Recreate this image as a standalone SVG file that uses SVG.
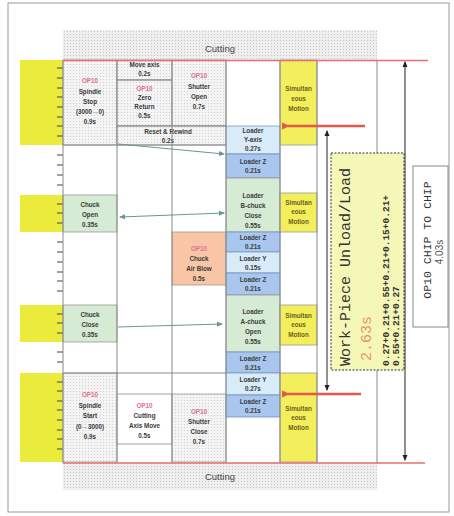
<svg xmlns="http://www.w3.org/2000/svg" width="454" height="516" viewBox="0 0 454 516">
<defs>
<pattern id="dots" width="3" height="3" patternUnits="userSpaceOnUse"><rect width="3" height="3" fill="#f4f4f4"/><rect x="1" y="1" width="1" height="1" fill="#d2d2d2"/></pattern>
<pattern id="dots2" width="3" height="3" patternUnits="userSpaceOnUse"><rect width="3" height="3" fill="#efefef"/><rect x="1" y="1" width="1" height="1" fill="#c4c4c4"/></pattern>
<marker id="ag" markerWidth="6" markerHeight="6" refX="5" refY="3" orient="auto-start-reverse" markerUnits="userSpaceOnUse"><path d="M0,0.5 L6,3 L0,5.5 z" fill="#6a9595"/></marker>
<marker id="ar" markerWidth="8" markerHeight="8" refX="2" refY="4" orient="auto" markerUnits="userSpaceOnUse"><path d="M8,0.5 L0,4 L8,7.5 z" fill="#e8574a"/></marker>
<marker id="ak" markerWidth="6" markerHeight="7" refX="5" refY="3" orient="auto-start-reverse" markerUnits="userSpaceOnUse"><path d="M0,0.5 L6,3 L0,5.5 z" fill="#222"/></marker>
</defs>
<style>
.grid{stroke:#8a8a8a;stroke-width:1;fill:none}
.t{font-family:"Liberation Sans",Arial,sans-serif;font-size:6.3px;font-weight:bold;fill:#3a3a3a;text-anchor:middle}
.op{fill:#e0708a}
.sm{fill:#6b6420}
.cut{font-family:"Liberation Sans",Arial,sans-serif;font-size:9.5px;fill:#444;text-anchor:middle}
.mono{font-family:"Liberation Mono","DejaVu Sans Mono",monospace;fill:#333}
.yl{fill:#ebeb3c}
.sim{fill:#f2ee5c;stroke:#999;stroke-width:0.8}
.gr{fill:#d5ebd3;stroke:#999;stroke-width:0.8}
.lb{fill:#d8ebf8;stroke:#7a9cc0;stroke-width:0.8}
.bl{fill:#a9c7ee;stroke:#6f8fbf;stroke-width:0.8}
.dt{fill:url(#dots);stroke:#999;stroke-width:0.8}
</style>
<rect x="8" y="3" width="441" height="509" fill="#fff" stroke="#9a9a9a" stroke-width="1"/>

<g id="cutting-top"><rect x="63" y="30" width="314" height="30" fill="url(#dots2)"/><text class="cut" x="220" y="52">Cutting</text></g>
<g id="cutting-bottom"><rect x="63" y="463" width="314" height="27" fill="url(#dots2)"/><text class="cut" x="220" y="480">Cutting</text></g>

<g id="left-bars">
<rect class="yl" x="20" y="60" width="43" height="85"/>
<rect class="yl" x="20" y="195" width="43" height="37"/>
<rect class="yl" x="20" y="305" width="43" height="37"/>
<rect class="yl" x="20" y="373" width="43" height="89"/>
<path d="M57,68h6M57,78h6M57,88h6M57,97h6M57,107h6M57,117h6M57,126h6M57,136h6M57,155h6M57,165h6M57,175h6M57,185h6M57,204h6M57,213h6M57,223h6M57,242h6M57,252h6M57,262h6M57,272h6M57,281h6M57,291h6M57,314h6M57,323h6M57,333h6M57,352h6M57,362h6M57,382h6M57,391h6M57,401h6M57,410h6M57,420h6M57,430h6M57,439h6M57,449h6" stroke="#444" stroke-width="1.2"/>
</g>

<g id="spindle-stop"><rect class="dt" x="63" y="60" width="54" height="85"/><text class="t op" x="90" y="83">OP10</text><text class="t" x="90" y="94">Spindle</text><text class="t" x="90" y="104">Stop</text><text class="t" x="90" y="114">(3000→0)</text><text class="t" x="90" y="124">0.9s</text></g>
<g id="move-axis"><rect class="dt" x="117" y="60" width="55" height="20"/><text class="t" x="144.5" y="67">Move axis</text><text class="t" x="144.5" y="76">0.2s</text></g>
<g id="zero-return"><rect class="dt" x="117" y="80" width="55" height="46"/><text class="t op" x="144.5" y="91">OP10</text><text class="t" x="144.5" y="100">Zero</text><text class="t" x="144.5" y="109">Return</text><text class="t" x="144.5" y="118">0.5s</text></g>
<g id="shutter-open"><rect class="dt" x="172" y="60" width="54" height="66"/><text class="t op" x="199" y="78">OP10</text><text class="t" x="199" y="89">Shutter</text><text class="t" x="199" y="99">Open</text><text class="t" x="199" y="109">0.7s</text></g>
<g id="reset-rewind"><rect class="dt" x="117" y="126" width="109" height="19"/><text class="t" x="168" y="134">Reset &amp; Rewind</text><text class="t" x="168" y="143">0.2s</text></g>

<g id="chuck-open"><rect class="gr" x="63" y="195" width="54" height="37"/><text class="t" x="90" y="207">Chuck</text><text class="t" x="90" y="217">Open</text><text class="t" x="90" y="227">0.35s</text></g>
<g id="chuck-close"><rect class="gr" x="63" y="305" width="54" height="37"/><text class="t" x="90" y="317">Chuck</text><text class="t" x="90" y="327">Close</text><text class="t" x="90" y="337">0.35s</text></g>
<g id="air-blow"><rect x="172" y="232" width="54" height="53" fill="#f8c6a6" stroke="#999" stroke-width="0.8"/><text class="t op" x="199" y="251">OP10</text><text class="t" x="199" y="261">Chuck</text><text class="t" x="199" y="271">Air Blow</text><text class="t" x="199" y="281">0.5s</text></g>

<g id="spindle-start"><rect class="dt" x="63" y="373" width="54" height="89"/><text class="t op" x="90" y="397">OP10</text><text class="t" x="90" y="408">Spindle</text><text class="t" x="90" y="418">Start</text><text class="t" x="90" y="429">(0→3000)</text><text class="t" x="90" y="439">0.9s</text></g>
<g id="cutting-axis"><rect x="117" y="394" width="55" height="50" fill="#fff" stroke="#8a8a8a" stroke-width="0.8"/><text class="t op" x="144.5" y="408">OP10</text><text class="t" x="144.5" y="418">Cutting</text><text class="t" x="144.5" y="428">Axis Move</text><text class="t" x="144.5" y="438">0.5s</text></g>
<g id="shutter-close"><rect class="dt" x="172" y="394" width="54" height="68"/><text class="t op" x="199" y="414">OP10</text><text class="t" x="199" y="424">Shutter</text><text class="t" x="199" y="434">Close</text><text class="t" x="199" y="444">0.7s</text></g>

<g id="loader-y1"><rect class="lb" x="226" y="126" width="54" height="28"/><text class="t" x="253" y="133">Loader</text><text class="t" x="253" y="142">Y-axis</text><text class="t" x="253" y="151">0.27s</text></g>
<g id="loader-z1"><rect class="bl" x="226" y="154" width="54" height="24"/><text class="t" x="253" y="164">Loader Z</text><text class="t" x="253" y="173">0.21s</text></g>
<g id="loader-b"><rect class="gr" x="226" y="178" width="54" height="54"/><text class="t" x="253" y="198">Loader</text><text class="t" x="253" y="208">B-chuck</text><text class="t" x="253" y="218">Close</text><text class="t" x="253" y="228">0.55s</text></g>
<g id="loader-z2"><rect class="bl" x="226" y="232" width="54" height="20"/><text class="t" x="253" y="240">Loader Z</text><text class="t" x="253" y="249">0.21s</text></g>
<g id="loader-y2"><rect class="lb" x="226" y="252" width="54" height="21"/><text class="t" x="253" y="261">Loader Y</text><text class="t" x="253" y="270">0.15s</text></g>
<g id="loader-z3"><rect class="bl" x="226" y="273" width="54" height="22"/><text class="t" x="253" y="282">Loader Z</text><text class="t" x="253" y="291">0.21s</text></g>
<g id="loader-a"><rect class="gr" x="226" y="295" width="54" height="57"/><text class="t" x="253" y="314">Loader</text><text class="t" x="253" y="324">A-chuck</text><text class="t" x="253" y="334">Open</text><text class="t" x="253" y="344">0.55s</text></g>
<g id="loader-z4"><rect class="bl" x="226" y="352" width="54" height="21"/><text class="t" x="253" y="361">Loader Z</text><text class="t" x="253" y="370">0.21s</text></g>
<g id="loader-y3"><rect class="lb" x="226" y="373" width="54" height="22"/><text class="t" x="253" y="382">Loader Y</text><text class="t" x="253" y="391">0.27s</text></g>
<g id="loader-z5"><rect class="bl" x="226" y="395" width="54" height="22"/><text class="t" x="253" y="404">Loader Z</text><text class="t" x="253" y="413">0.21s</text></g>

<g id="sim1"><rect class="sim" x="280" y="60" width="37" height="85"/><text class="t sm" x="298.5" y="91">Simultan</text><text class="t sm" x="298.5" y="101">eous</text><text class="t sm" x="298.5" y="111">Motion</text></g>
<g id="sim2"><rect class="sim" x="280" y="193" width="37" height="39"/><text class="t sm" x="298.5" y="205">Simultan</text><text class="t sm" x="298.5" y="214">eous</text><text class="t sm" x="298.5" y="224">Motion</text></g>
<g id="sim3"><rect class="sim" x="280" y="305" width="37" height="40"/><text class="t sm" x="298.5" y="318">Simultan</text><text class="t sm" x="298.5" y="327">eous</text><text class="t sm" x="298.5" y="337">Motion</text></g>
<g id="sim4"><rect class="sim" x="280" y="373" width="37" height="89"/><text class="t sm" x="298.5" y="411">Simultan</text><text class="t sm" x="298.5" y="420">eous</text><text class="t sm" x="298.5" y="430">Motion</text></g>

<g id="grid">
<path class="grid" d="M63,60V463M117,60V463M172,60V463M226,60V463M280,60V463M317,60V463M377,60V153M377,370V463M63,145H226M63,373H226M117,80H172M117,126H226"/>
</g>

<g id="work-piece">
<rect x="331" y="153" width="73" height="217" fill="#f5f7b7" stroke="#333" stroke-width="1" stroke-dasharray="2,1.5"/>
<text class="mono" font-size="15" transform="translate(350,366) rotate(-90)">Work-Piece Unload/Load</text>
<text class="mono" font-size="15" style="fill:#e89468" transform="translate(371,361) rotate(-90)">2.63s</text>
<text class="mono" font-size="9.5" font-weight="bold" transform="translate(389,366) rotate(-90)">0.27+0.21+0.55+0.21+0.15+0.21+</text>
<text class="mono" font-size="9.5" font-weight="bold" transform="translate(399,366) rotate(-90)">0.55+0.21+0.27</text>
</g>
<g id="op10-chip">
<rect x="413" y="166" width="35" height="161" fill="#fff" stroke="#888" stroke-width="1"/>
<text class="mono" font-size="11.5" text-anchor="middle" transform="translate(431,240) rotate(-90)">OP10 CHIP TO CHIP</text>
<text font-family="Liberation Sans,Arial,sans-serif" font-size="10" fill="#555" text-anchor="middle" transform="translate(443,252) rotate(-90)">4.03s</text>
</g>

<g id="red-lines">
<path d="M63,60.5H428M63,463H425" stroke="#e8706f" stroke-width="1.5" fill="none"/>
</g>

<g id="connectors">
<path d="M118,144L224,154" stroke="#6a9595" stroke-width="1" fill="none" marker-end="url(#ag)"/>
<path d="M120,217L224,213" stroke="#6a9595" stroke-width="1" fill="none" marker-start="url(#ag)" marker-end="url(#ag)"/>
<path d="M118,327L222,324" stroke="#6a9595" stroke-width="1" fill="none" marker-end="url(#ag)"/>
<path d="M365,126H288" stroke="#e8574a" stroke-width="2.5" fill="none" marker-end="url(#ar)"/>
<path d="M361,394H288" stroke="#e8574a" stroke-width="2.5" fill="none" marker-end="url(#ar)"/>
<path d="M327,131V390" stroke="#222" stroke-width="1" fill="none" marker-start="url(#ak)" marker-end="url(#ak)"/>
<path d="M405,62V460" stroke="#222" stroke-width="1" fill="none" marker-start="url(#ak)" marker-end="url(#ak)"/>
</g>
</svg>
